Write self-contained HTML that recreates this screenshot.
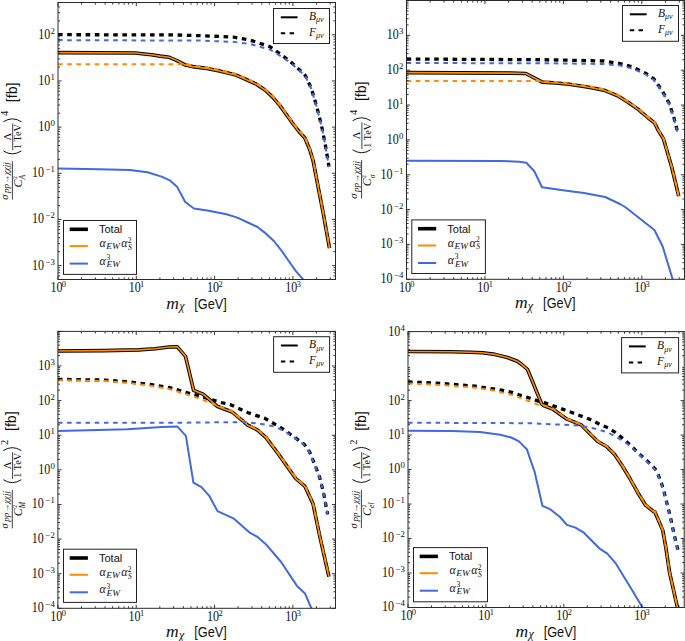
<!DOCTYPE html><html><head><meta charset="utf-8"><style>html,body{margin:0;padding:0;background:#fff;}svg{display:block;}.s{font-family:"Liberation Serif",serif;} .ss{font-family:"Liberation Sans",sans-serif;}</style></head><body>
<svg width="685" height="641" viewBox="0 0 685 641">
<rect width="685" height="641" fill="#fff"/>
<clipPath id="cTL"><rect x="58.0" y="2.5" width="277.5" height="277.0"/></clipPath>
<g clip-path="url(#cTL)" fill="none" stroke-linejoin="round">
<polyline points="58.0,52.6 135.0,53.0 151.5,54.7 160.0,56.1 169.3,57.3 177.5,60.8 185.1,64.9 192.7,66.6 206.7,68.4 218.4,70.7 230.1,73.6 235.0,74.7 245.0,79.0 256.8,84.4 265.0,90.0 272.4,96.8 279.9,105.6 286.2,114.3 292.4,123.0 298.7,131.2 304.9,138.0 309.9,150.0 313.1,160.7 317.5,183.7 323.0,212.0 329.5,248.1" stroke="#000" stroke-width="3.6"/>
<polyline points="58.0,34.7 175.0,34.9 200.0,35.7 232.8,37.0 250.2,40.1 269.9,46.6 283.0,56.0 290.6,61.9 300.0,70.3 305.6,75.9 311.2,88.1 316.8,106.8 321.5,125.5 325.2,144.2 329.0,166.6" stroke="#000" stroke-width="3.3" stroke-dasharray="4.6 4.6"/>
<polyline points="58.0,52.6 135.0,53.0 151.5,54.7 160.0,56.1 169.3,57.3 177.5,60.8 185.1,64.9 192.7,66.6 206.7,68.4 218.4,70.7 230.1,73.6 235.0,74.7 245.0,79.0 256.8,84.4 265.0,90.0 272.4,96.8 279.9,105.6 286.2,114.3 292.4,123.0 298.7,131.2 304.9,138.0 309.9,150.0 313.1,160.7 317.5,183.7 323.0,212.0 329.5,248.1" stroke="#ff8c00" stroke-width="1.65"/>
<polyline points="58.0,64.3 182.2,64.3 185.1,63.9 192.7,65.5 206.7,67.3 218.4,69.6 230.1,72.5 235.0,73.6 245.0,77.9 256.8,83.3 265.0,88.9 272.4,95.7 279.9,104.5 286.2,113.2 292.4,121.9 298.7,130.1 304.9,136.9 309.9,149.0 313.1,159.8 317.5,182.8 323.0,211.1 329.5,247.2" stroke="#ff8c00" stroke-width="2" stroke-dasharray="4.6 4.6"/>
<polyline points="58.0,168.4 98.8,169.3 130.0,170.0 147.5,172.3 161.5,176.6 170.3,180.7 177.3,187.1 185.2,202.0 193.9,208.5 208.8,210.8 226.4,214.3 235.1,216.9 240.0,218.8 250.0,223.5 257.5,227.0 265.7,233.4 273.9,241.0 280.9,249.8 289.1,261.5 296.1,271.4 303.2,279.3 305.0,281.5" stroke="#4169e1" stroke-width="2"/>
<polyline points="58.0,40.1 200.0,40.6 232.8,41.8 250.2,44.0 269.9,49.5 283.0,57.5 290.6,63.0 300.0,71.0 305.6,76.5 311.2,88.6 316.8,107.3 321.5,126.0 325.2,144.7 329.0,167.1" stroke="#4169e1" stroke-width="2" stroke-dasharray="4.6 4.6"/>
</g>
<path d="M58.00,279.5v-3.6 M58.00,2.5v3.6 M81.57,279.5v-2.1 M81.57,2.5v2.1 M95.36,279.5v-2.1 M95.36,2.5v2.1 M105.14,279.5v-2.1 M105.14,2.5v2.1 M112.73,279.5v-2.1 M112.73,2.5v2.1 M118.93,279.5v-2.1 M118.93,2.5v2.1 M124.17,279.5v-2.1 M124.17,2.5v2.1 M128.71,279.5v-2.1 M128.71,2.5v2.1 M132.72,279.5v-2.1 M132.72,2.5v2.1 M136.30,279.5v-3.6 M136.30,2.5v3.6 M159.87,279.5v-2.1 M159.87,2.5v2.1 M173.66,279.5v-2.1 M173.66,2.5v2.1 M183.44,279.5v-2.1 M183.44,2.5v2.1 M191.03,279.5v-2.1 M191.03,2.5v2.1 M197.23,279.5v-2.1 M197.23,2.5v2.1 M202.47,279.5v-2.1 M202.47,2.5v2.1 M207.01,279.5v-2.1 M207.01,2.5v2.1 M211.02,279.5v-2.1 M211.02,2.5v2.1 M214.60,279.5v-3.6 M214.60,2.5v3.6 M238.17,279.5v-2.1 M238.17,2.5v2.1 M251.96,279.5v-2.1 M251.96,2.5v2.1 M261.74,279.5v-2.1 M261.74,2.5v2.1 M269.33,279.5v-2.1 M269.33,2.5v2.1 M275.53,279.5v-2.1 M275.53,2.5v2.1 M280.77,279.5v-2.1 M280.77,2.5v2.1 M285.31,279.5v-2.1 M285.31,2.5v2.1 M289.32,279.5v-2.1 M289.32,2.5v2.1 M292.90,279.5v-3.6 M292.90,2.5v3.6 M316.47,279.5v-2.1 M316.47,2.5v2.1 M330.26,279.5v-2.1 M330.26,2.5v2.1 M58.0,279.50h2.1 M335.5,279.50h-2.1 M58.0,275.84h2.1 M335.5,275.84h-2.1 M58.0,272.75h2.1 M335.5,272.75h-2.1 M58.0,270.08h2.1 M335.5,270.08h-2.1 M58.0,267.71h2.1 M335.5,267.71h-2.1 M58.0,265.60h3.6 M335.5,265.60h-3.6 M58.0,251.70h2.1 M335.5,251.70h-2.1 M58.0,243.58h2.1 M335.5,243.58h-2.1 M58.0,237.81h2.1 M335.5,237.81h-2.1 M58.0,233.33h2.1 M335.5,233.33h-2.1 M58.0,229.68h2.1 M335.5,229.68h-2.1 M58.0,226.59h2.1 M335.5,226.59h-2.1 M58.0,223.91h2.1 M335.5,223.91h-2.1 M58.0,221.55h2.1 M335.5,221.55h-2.1 M58.0,219.44h3.6 M335.5,219.44h-3.6 M58.0,205.54h2.1 M335.5,205.54h-2.1 M58.0,197.41h2.1 M335.5,197.41h-2.1 M58.0,191.64h2.1 M335.5,191.64h-2.1 M58.0,187.17h2.1 M335.5,187.17h-2.1 M58.0,183.51h2.1 M335.5,183.51h-2.1 M58.0,180.42h2.1 M335.5,180.42h-2.1 M58.0,177.74h2.1 M335.5,177.74h-2.1 M58.0,175.38h2.1 M335.5,175.38h-2.1 M58.0,173.27h3.6 M335.5,173.27h-3.6 M58.0,159.37h2.1 M335.5,159.37h-2.1 M58.0,151.24h2.1 M335.5,151.24h-2.1 M58.0,145.47h2.1 M335.5,145.47h-2.1 M58.0,141.00h2.1 M335.5,141.00h-2.1 M58.0,137.34h2.1 M335.5,137.34h-2.1 M58.0,134.25h2.1 M335.5,134.25h-2.1 M58.0,131.58h2.1 M335.5,131.58h-2.1 M58.0,129.21h2.1 M335.5,129.21h-2.1 M58.0,127.10h3.6 M335.5,127.10h-3.6 M58.0,113.20h2.1 M335.5,113.20h-2.1 M58.0,105.08h2.1 M335.5,105.08h-2.1 M58.0,99.31h2.1 M335.5,99.31h-2.1 M58.0,94.83h2.1 M335.5,94.83h-2.1 M58.0,91.18h2.1 M335.5,91.18h-2.1 M58.0,88.09h2.1 M335.5,88.09h-2.1 M58.0,85.41h2.1 M335.5,85.41h-2.1 M58.0,83.05h2.1 M335.5,83.05h-2.1 M58.0,80.94h3.6 M335.5,80.94h-3.6 M58.0,67.04h2.1 M335.5,67.04h-2.1 M58.0,58.91h2.1 M335.5,58.91h-2.1 M58.0,53.14h2.1 M335.5,53.14h-2.1 M58.0,48.67h2.1 M335.5,48.67h-2.1 M58.0,45.01h2.1 M335.5,45.01h-2.1 M58.0,41.92h2.1 M335.5,41.92h-2.1 M58.0,39.24h2.1 M335.5,39.24h-2.1 M58.0,36.88h2.1 M335.5,36.88h-2.1 M58.0,34.77h3.6 M335.5,34.77h-3.6 M58.0,20.87h2.1 M335.5,20.87h-2.1 M58.0,12.74h2.1 M335.5,12.74h-2.1 M58.0,6.97h2.1 M335.5,6.97h-2.1 M58.0,2.50h2.1 M335.5,2.50h-2.1" stroke="#222" stroke-width="0.9" fill="none"/>
<rect x="58.0" y="2.5" width="277.5" height="277.0" fill="none" stroke="#2a2a2a" stroke-width="1"/>
<text class="s" x="55.0" y="33.7" font-size="8.8" text-anchor="end" fill="#111">2</text>
<text class="s" transform="translate(50.3,38.7) scale(1,1.13)" font-size="12" text-anchor="end" fill="#111">10</text>
<text class="s" x="55.0" y="79.8" font-size="8.8" text-anchor="end" fill="#111">1</text>
<text class="s" transform="translate(50.3,84.8) scale(1,1.13)" font-size="12" text-anchor="end" fill="#111">10</text>
<text class="s" x="55.0" y="126.0" font-size="8.8" text-anchor="end" fill="#111">0</text>
<text class="s" transform="translate(50.3,131.0) scale(1,1.13)" font-size="12" text-anchor="end" fill="#111">10</text>
<text class="s" x="55.0" y="172.2" font-size="8.8" text-anchor="end" fill="#111">−1</text>
<text class="s" transform="translate(43.9,177.2) scale(1,1.13)" font-size="12" text-anchor="end" fill="#111">10</text>
<text class="s" x="55.0" y="218.3" font-size="8.8" text-anchor="end" fill="#111">−2</text>
<text class="s" transform="translate(43.9,223.3) scale(1,1.13)" font-size="12" text-anchor="end" fill="#111">10</text>
<text class="s" x="55.0" y="264.5" font-size="8.8" text-anchor="end" fill="#111">−3</text>
<text class="s" transform="translate(43.9,269.5) scale(1,1.13)" font-size="12" text-anchor="end" fill="#111">10</text>
<text class="s" transform="translate(50.4,292.0) scale(1,1.13)" font-size="12" fill="#111">10</text>
<text class="s" x="61.8" y="287.0" font-size="8.4" fill="#111">0</text>
<text class="s" transform="translate(128.7,292.0) scale(1,1.13)" font-size="12" fill="#111">10</text>
<text class="s" x="140.1" y="287.0" font-size="8.4" fill="#111">1</text>
<text class="s" transform="translate(207.0,292.0) scale(1,1.13)" font-size="12" fill="#111">10</text>
<text class="s" x="218.4" y="287.0" font-size="8.4" fill="#111">2</text>
<text class="s" transform="translate(285.3,292.0) scale(1,1.13)" font-size="12" fill="#111">10</text>
<text class="s" x="296.7" y="287.0" font-size="8.4" fill="#111">3</text>
<text class="s" x="166.2" y="308.5" font-size="17.5" font-style="italic" fill="#111">m<tspan font-size="12" dy="1.8" dx="0.3">χ</tspan></text>
<text class="ss" x="194.3" y="308.5" font-size="15.5" fill="#111" textLength="32.5" lengthAdjust="spacingAndGlyphs">[GeV]</text>
<rect x="273.5" y="8.5" width="56.0" height="35.0" fill="#fff" stroke="#222" stroke-width="1"/>
<line x1="280.8" x2="297.6" y1="17.3" y2="17.3" stroke="#000" stroke-width="2"/>
<line x1="280.8" x2="297.6" y1="33.3" y2="33.3" stroke="#000" stroke-width="2" stroke-dasharray="4.4 4.4"/>
<text class="s" x="309.0" y="19.9" font-size="11.5" font-style="italic" fill="#111">B<tspan font-size="8" dy="2.5">μν</tspan></text>
<text class="s" x="309.0" y="35.6" font-size="11.5" font-style="italic" fill="#111">F<tspan font-size="8" dy="2.5">μν</tspan></text>
<rect x="63.5" y="220.5" width="73.0" height="53.9" fill="#fff" stroke="#222" stroke-width="1"/>
<line x1="69.7" x2="87.9" y1="229.3" y2="229.3" stroke="#000" stroke-width="3.6"/>
<line x1="69.7" x2="87.9" y1="246.1" y2="246.1" stroke="#ff8c00" stroke-width="2"/>
<line x1="69.7" x2="87.9" y1="263.6" y2="263.6" stroke="#4169e1" stroke-width="2"/>
<text class="ss" x="99.0" y="233.1" font-size="11" fill="#111">Total</text>
<text class="s" x="99.5" y="247.1" font-size="11.5" font-style="italic" fill="#111" textLength="6.2" lengthAdjust="spacingAndGlyphs">α</text>
<text class="s" x="106.3" y="249.1" font-size="7.6" font-style="italic" fill="#111" textLength="13.6" lengthAdjust="spacingAndGlyphs">EW</text>
<text class="s" x="121.2" y="247.1" font-size="11.5" font-style="italic" fill="#111" textLength="6.2" lengthAdjust="spacingAndGlyphs">α</text>
<text class="s" x="127.8" y="243.0" font-size="7.6" fill="#111">2</text>
<text class="s" x="127.9" y="250.0" font-size="7.6" font-style="italic" fill="#111">S</text>
<text class="s" x="99.5" y="264.6" font-size="11.5" font-style="italic" fill="#111" textLength="6.2" lengthAdjust="spacingAndGlyphs">α</text>
<text class="s" x="106.4" y="260.0" font-size="7.6" fill="#111">3</text>
<text class="s" x="106.6" y="267.3" font-size="7.6" font-style="italic" fill="#111" textLength="13.4" lengthAdjust="spacingAndGlyphs">EW</text>
<g transform="translate(0.0,141.0) rotate(-90)" fill="#111">
<line x1="-58.6" x2="-20.2" y1="12.4" y2="12.4" stroke="#111" stroke-width="0.8"/>
<text class="s" x="-58.8" y="7.7" font-size="10.5" font-style="italic">σ</text>
<text class="s" x="-52" y="9.4" font-size="8" font-style="italic" textLength="30.8" lengthAdjust="spacingAndGlyphs">pp→χχjj</text>
<text class="s" x="-46.4" y="22" font-size="12" font-style="italic">C</text>
<text class="s" x="-38" y="17.2" font-size="5.8">2</text>
<text class="s" x="-38.4" y="25.4" font-size="7.6" font-style="italic">A</text>
<path d="M-9.9,3.4 Q-15.8,12.4 -9.9,21.4" fill="none" stroke="#111" stroke-width="1"/>
<path d="M19.2,3.4 Q25.1,12.4 19.2,21.4" fill="none" stroke="#111" stroke-width="1"/>
<text class="s" x="0.6" y="10.7" font-size="10.5">Λ</text>
<line x1="-9.1" x2="17.5" y1="12.7" y2="12.7" stroke="#111" stroke-width="0.8"/>
<text class="s" x="-7.9" y="21.4" font-size="10.5" textLength="24.8" lengthAdjust="spacingAndGlyphs">1 TeV</text>
<text class="s" x="24.9" y="7.7" font-size="10.5">4</text>
<text class="ss" x="38.8" y="16.6" font-size="15.5" textLength="19.6" lengthAdjust="spacingAndGlyphs">[fb]</text>
</g>
<clipPath id="cTR"><rect x="406.5" y="0.5" width="278.0" height="278.8"/></clipPath>
<g clip-path="url(#cTR)" fill="none" stroke-linejoin="round">
<polyline points="406.5,72.6 510.0,73.1 525.8,73.5 533.7,77.7 542.2,82.1 556.0,83.0 569.1,84.3 582.3,86.3 590.0,87.5 603.9,90.2 617.7,95.8 628.8,102.7 638.5,109.6 648.3,118.0 654.5,122.8 658.0,130.0 663.5,138.9 671.7,167.0 678.7,196.2" stroke="#000" stroke-width="3.6"/>
<polyline points="406.6,59.0 550.0,59.8 603.8,61.0 620.2,63.6 631.9,66.8 645.9,73.4 654.1,79.2 662.3,91.0 669.3,103.8 674.0,117.9 677.5,131.9" stroke="#000" stroke-width="3.3" stroke-dasharray="4.6 4.6"/>
<polyline points="406.5,72.6 510.0,73.1 525.8,73.5 533.7,77.7 542.2,82.1 556.0,83.0 569.1,84.3 582.3,86.3 590.0,87.5 603.9,90.2 617.7,95.8 628.8,102.7 638.5,109.6 648.3,118.0 654.5,122.8 658.0,130.0 663.5,138.9 671.7,167.0 678.7,196.2" stroke="#ff8c00" stroke-width="1.65"/>
<polyline points="406.5,81.0 537.0,81.0 542.2,81.1 556.0,82.0 569.1,83.3 582.3,85.3 590.0,86.5 603.9,89.2 617.7,94.8 628.8,101.7 638.5,108.6 648.3,117.0 654.5,121.8 658.0,129.2 663.5,138.3 671.7,166.6 678.7,195.8" stroke="#ff8c00" stroke-width="2" stroke-dasharray="4.6 4.6"/>
<polyline points="406.6,160.8 500.0,161.0 519.3,161.7 526.3,162.8 534.2,171.0 542.0,187.3 566.6,190.8 584.1,192.9 605.1,197.0 620.0,204.0 625.8,207.5 654.4,230.0 662.6,246.3 673.5,282.0" stroke="#4169e1" stroke-width="2"/>
<polyline points="406.6,63.0 550.0,63.3 603.8,64.0 620.2,65.5 631.9,68.3 645.9,74.6 654.1,80.2 662.3,91.8 669.3,104.5 674.0,118.5 677.5,132.5" stroke="#4169e1" stroke-width="2" stroke-dasharray="4.6 4.6"/>
</g>
<path d="M406.50,279.3v-3.6 M406.50,0.5v3.6 M430.11,279.3v-2.1 M430.11,0.5v2.1 M443.93,279.3v-2.1 M443.93,0.5v2.1 M453.73,279.3v-2.1 M453.73,0.5v2.1 M461.33,279.3v-2.1 M461.33,0.5v2.1 M467.54,279.3v-2.1 M467.54,0.5v2.1 M472.79,279.3v-2.1 M472.79,0.5v2.1 M477.34,279.3v-2.1 M477.34,0.5v2.1 M481.35,279.3v-2.1 M481.35,0.5v2.1 M484.94,279.3v-3.6 M484.94,0.5v3.6 M508.55,279.3v-2.1 M508.55,0.5v2.1 M522.37,279.3v-2.1 M522.37,0.5v2.1 M532.17,279.3v-2.1 M532.17,0.5v2.1 M539.77,279.3v-2.1 M539.77,0.5v2.1 M545.98,279.3v-2.1 M545.98,0.5v2.1 M551.23,279.3v-2.1 M551.23,0.5v2.1 M555.78,279.3v-2.1 M555.78,0.5v2.1 M559.79,279.3v-2.1 M559.79,0.5v2.1 M563.38,279.3v-3.6 M563.38,0.5v3.6 M586.99,279.3v-2.1 M586.99,0.5v2.1 M600.81,279.3v-2.1 M600.81,0.5v2.1 M610.61,279.3v-2.1 M610.61,0.5v2.1 M618.21,279.3v-2.1 M618.21,0.5v2.1 M624.42,279.3v-2.1 M624.42,0.5v2.1 M629.67,279.3v-2.1 M629.67,0.5v2.1 M634.22,279.3v-2.1 M634.22,0.5v2.1 M638.23,279.3v-2.1 M638.23,0.5v2.1 M641.82,279.3v-3.6 M641.82,0.5v3.6 M665.44,279.3v-2.1 M665.44,0.5v2.1 M679.25,279.3v-2.1 M679.25,0.5v2.1 M406.5,279.30h3.6 M684.5,279.30h-3.6 M406.5,268.81h2.1 M684.5,268.81h-2.1 M406.5,262.67h2.1 M684.5,262.67h-2.1 M406.5,258.32h2.1 M684.5,258.32h-2.1 M406.5,254.94h2.1 M684.5,254.94h-2.1 M406.5,252.18h2.1 M684.5,252.18h-2.1 M406.5,249.85h2.1 M684.5,249.85h-2.1 M406.5,247.83h2.1 M684.5,247.83h-2.1 M406.5,246.04h2.1 M684.5,246.04h-2.1 M406.5,244.45h3.6 M684.5,244.45h-3.6 M406.5,233.96h2.1 M684.5,233.96h-2.1 M406.5,227.82h2.1 M684.5,227.82h-2.1 M406.5,223.47h2.1 M684.5,223.47h-2.1 M406.5,220.09h2.1 M684.5,220.09h-2.1 M406.5,217.33h2.1 M684.5,217.33h-2.1 M406.5,215.00h2.1 M684.5,215.00h-2.1 M406.5,212.98h2.1 M684.5,212.98h-2.1 M406.5,211.19h2.1 M684.5,211.19h-2.1 M406.5,209.60h3.6 M684.5,209.60h-3.6 M406.5,199.11h2.1 M684.5,199.11h-2.1 M406.5,192.97h2.1 M684.5,192.97h-2.1 M406.5,188.62h2.1 M684.5,188.62h-2.1 M406.5,185.24h2.1 M684.5,185.24h-2.1 M406.5,182.48h2.1 M684.5,182.48h-2.1 M406.5,180.15h2.1 M684.5,180.15h-2.1 M406.5,178.13h2.1 M684.5,178.13h-2.1 M406.5,176.34h2.1 M684.5,176.34h-2.1 M406.5,174.75h3.6 M684.5,174.75h-3.6 M406.5,164.26h2.1 M684.5,164.26h-2.1 M406.5,158.12h2.1 M684.5,158.12h-2.1 M406.5,153.77h2.1 M684.5,153.77h-2.1 M406.5,150.39h2.1 M684.5,150.39h-2.1 M406.5,147.63h2.1 M684.5,147.63h-2.1 M406.5,145.30h2.1 M684.5,145.30h-2.1 M406.5,143.28h2.1 M684.5,143.28h-2.1 M406.5,141.49h2.1 M684.5,141.49h-2.1 M406.5,139.90h3.6 M684.5,139.90h-3.6 M406.5,129.41h2.1 M684.5,129.41h-2.1 M406.5,123.27h2.1 M684.5,123.27h-2.1 M406.5,118.92h2.1 M684.5,118.92h-2.1 M406.5,115.54h2.1 M684.5,115.54h-2.1 M406.5,112.78h2.1 M684.5,112.78h-2.1 M406.5,110.45h2.1 M684.5,110.45h-2.1 M406.5,108.43h2.1 M684.5,108.43h-2.1 M406.5,106.64h2.1 M684.5,106.64h-2.1 M406.5,105.05h3.6 M684.5,105.05h-3.6 M406.5,94.56h2.1 M684.5,94.56h-2.1 M406.5,88.42h2.1 M684.5,88.42h-2.1 M406.5,84.07h2.1 M684.5,84.07h-2.1 M406.5,80.69h2.1 M684.5,80.69h-2.1 M406.5,77.93h2.1 M684.5,77.93h-2.1 M406.5,75.60h2.1 M684.5,75.60h-2.1 M406.5,73.58h2.1 M684.5,73.58h-2.1 M406.5,71.79h2.1 M684.5,71.79h-2.1 M406.5,70.20h3.6 M684.5,70.20h-3.6 M406.5,59.71h2.1 M684.5,59.71h-2.1 M406.5,53.57h2.1 M684.5,53.57h-2.1 M406.5,49.22h2.1 M684.5,49.22h-2.1 M406.5,45.84h2.1 M684.5,45.84h-2.1 M406.5,43.08h2.1 M684.5,43.08h-2.1 M406.5,40.75h2.1 M684.5,40.75h-2.1 M406.5,38.73h2.1 M684.5,38.73h-2.1 M406.5,36.94h2.1 M684.5,36.94h-2.1 M406.5,35.35h3.6 M684.5,35.35h-3.6 M406.5,24.86h2.1 M684.5,24.86h-2.1 M406.5,18.72h2.1 M684.5,18.72h-2.1 M406.5,14.37h2.1 M684.5,14.37h-2.1 M406.5,10.99h2.1 M684.5,10.99h-2.1 M406.5,8.23h2.1 M684.5,8.23h-2.1 M406.5,5.90h2.1 M684.5,5.90h-2.1 M406.5,3.88h2.1 M684.5,3.88h-2.1 M406.5,2.09h2.1 M684.5,2.09h-2.1 M406.5,0.50h3.6 M684.5,0.50h-3.6" stroke="#222" stroke-width="0.9" fill="none"/>
<rect x="406.5" y="0.5" width="278.0" height="278.8" fill="none" stroke="#2a2a2a" stroke-width="1"/>
<text class="s" x="403.5" y="34.2" font-size="8.8" text-anchor="end" fill="#111">3</text>
<text class="s" transform="translate(398.8,39.2) scale(1,1.13)" font-size="12" text-anchor="end" fill="#111">10</text>
<text class="s" x="403.5" y="69.1" font-size="8.8" text-anchor="end" fill="#111">2</text>
<text class="s" transform="translate(398.8,74.1) scale(1,1.13)" font-size="12" text-anchor="end" fill="#111">10</text>
<text class="s" x="403.5" y="104.0" font-size="8.8" text-anchor="end" fill="#111">1</text>
<text class="s" transform="translate(398.8,109.0) scale(1,1.13)" font-size="12" text-anchor="end" fill="#111">10</text>
<text class="s" x="403.5" y="138.8" font-size="8.8" text-anchor="end" fill="#111">0</text>
<text class="s" transform="translate(398.8,143.8) scale(1,1.13)" font-size="12" text-anchor="end" fill="#111">10</text>
<text class="s" x="403.5" y="173.7" font-size="8.8" text-anchor="end" fill="#111">−1</text>
<text class="s" transform="translate(392.4,178.7) scale(1,1.13)" font-size="12" text-anchor="end" fill="#111">10</text>
<text class="s" x="403.5" y="208.5" font-size="8.8" text-anchor="end" fill="#111">−2</text>
<text class="s" transform="translate(392.4,213.5) scale(1,1.13)" font-size="12" text-anchor="end" fill="#111">10</text>
<text class="s" x="403.5" y="243.4" font-size="8.8" text-anchor="end" fill="#111">−3</text>
<text class="s" transform="translate(392.4,248.4) scale(1,1.13)" font-size="12" text-anchor="end" fill="#111">10</text>
<text class="s" x="403.5" y="278.2" font-size="8.8" text-anchor="end" fill="#111">−4</text>
<text class="s" transform="translate(392.4,283.2) scale(1,1.13)" font-size="12" text-anchor="end" fill="#111">10</text>
<text class="s" transform="translate(398.9,291.8) scale(1,1.13)" font-size="12" fill="#111">10</text>
<text class="s" x="410.3" y="286.8" font-size="8.4" fill="#111">0</text>
<text class="s" transform="translate(477.3,291.8) scale(1,1.13)" font-size="12" fill="#111">10</text>
<text class="s" x="488.7" y="286.8" font-size="8.4" fill="#111">1</text>
<text class="s" transform="translate(555.8,291.8) scale(1,1.13)" font-size="12" fill="#111">10</text>
<text class="s" x="567.2" y="286.8" font-size="8.4" fill="#111">2</text>
<text class="s" transform="translate(634.2,291.8) scale(1,1.13)" font-size="12" fill="#111">10</text>
<text class="s" x="645.6" y="286.8" font-size="8.4" fill="#111">3</text>
<text class="s" x="514.9" y="308.3" font-size="17.5" font-style="italic" fill="#111">m<tspan font-size="12" dy="1.8" dx="0.3">χ</tspan></text>
<text class="ss" x="543.1" y="308.3" font-size="15.5" fill="#111" textLength="32.5" lengthAdjust="spacingAndGlyphs">[GeV]</text>
<rect x="622.5" y="5.5" width="56.0" height="35.8" fill="#fff" stroke="#222" stroke-width="1"/>
<line x1="629.8" x2="646.6" y1="14.3" y2="14.3" stroke="#000" stroke-width="2"/>
<line x1="629.8" x2="646.6" y1="30.3" y2="30.3" stroke="#000" stroke-width="2" stroke-dasharray="4.4 4.4"/>
<text class="s" x="658.0" y="16.9" font-size="11.5" font-style="italic" fill="#111">B<tspan font-size="8" dy="2.5">μν</tspan></text>
<text class="s" x="658.0" y="32.6" font-size="11.5" font-style="italic" fill="#111">F<tspan font-size="8" dy="2.5">μν</tspan></text>
<rect x="411.8" y="219.9" width="73.6" height="53.6" fill="#fff" stroke="#222" stroke-width="1"/>
<line x1="418.0" x2="436.2" y1="228.7" y2="228.7" stroke="#000" stroke-width="3.6"/>
<line x1="418.0" x2="436.2" y1="245.5" y2="245.5" stroke="#ff8c00" stroke-width="2"/>
<line x1="418.0" x2="436.2" y1="263.0" y2="263.0" stroke="#4169e1" stroke-width="2"/>
<text class="ss" x="447.3" y="232.5" font-size="11" fill="#111">Total</text>
<text class="s" x="447.8" y="246.5" font-size="11.5" font-style="italic" fill="#111" textLength="6.2" lengthAdjust="spacingAndGlyphs">α</text>
<text class="s" x="454.6" y="248.5" font-size="7.6" font-style="italic" fill="#111" textLength="13.6" lengthAdjust="spacingAndGlyphs">EW</text>
<text class="s" x="469.5" y="246.5" font-size="11.5" font-style="italic" fill="#111" textLength="6.2" lengthAdjust="spacingAndGlyphs">α</text>
<text class="s" x="476.1" y="242.4" font-size="7.6" fill="#111">2</text>
<text class="s" x="476.2" y="249.4" font-size="7.6" font-style="italic" fill="#111">S</text>
<text class="s" x="447.8" y="264.0" font-size="11.5" font-style="italic" fill="#111" textLength="6.2" lengthAdjust="spacingAndGlyphs">α</text>
<text class="s" x="454.7" y="259.4" font-size="7.6" fill="#111">3</text>
<text class="s" x="454.9" y="266.7" font-size="7.6" font-style="italic" fill="#111" textLength="13.4" lengthAdjust="spacingAndGlyphs">EW</text>
<g transform="translate(349.2,139.9) rotate(-90)" fill="#111">
<line x1="-58.6" x2="-20.2" y1="12.4" y2="12.4" stroke="#111" stroke-width="0.8"/>
<text class="s" x="-58.8" y="7.7" font-size="10.5" font-style="italic">σ</text>
<text class="s" x="-52" y="9.4" font-size="8" font-style="italic" textLength="30.8" lengthAdjust="spacingAndGlyphs">pp→χχjj</text>
<text class="s" x="-46.4" y="22" font-size="12" font-style="italic">C</text>
<text class="s" x="-38" y="17.2" font-size="5.8">2</text>
<text class="s" x="-38.4" y="25.4" font-size="7.6" font-style="italic">σ</text>
<path d="M-9.9,3.4 Q-15.8,12.4 -9.9,21.4" fill="none" stroke="#111" stroke-width="1"/>
<path d="M19.2,3.4 Q25.1,12.4 19.2,21.4" fill="none" stroke="#111" stroke-width="1"/>
<text class="s" x="0.6" y="10.7" font-size="10.5">Λ</text>
<line x1="-9.1" x2="17.5" y1="12.7" y2="12.7" stroke="#111" stroke-width="0.8"/>
<text class="s" x="-7.9" y="21.4" font-size="10.5" textLength="24.8" lengthAdjust="spacingAndGlyphs">1 TeV</text>
<text class="s" x="24.9" y="7.7" font-size="10.5">4</text>
<text class="ss" x="38.8" y="16.6" font-size="15.5" textLength="19.6" lengthAdjust="spacingAndGlyphs">[fb]</text>
</g>
<clipPath id="cBL"><rect x="57.9" y="331.4" width="277.6" height="276.9"/></clipPath>
<g clip-path="url(#cBL)" fill="none" stroke-linejoin="round">
<polyline points="57.9,351.0 103.7,350.6 138.8,349.9 155.1,348.7 169.1,347.0 177.3,346.8 185.5,356.4 193.6,390.3 203.0,394.2 217.0,406.2 232.2,412.0 247.4,424.9 257.9,430.3 266.1,437.7 280.1,456.4 295.7,478.5 305.0,486.4 313.0,503.7 319.6,535.5 328.9,576.6" stroke="#000" stroke-width="3.6"/>
<polyline points="57.9,379.3 103.7,380.1 127.1,381.7 150.4,384.5 169.1,387.5 187.8,392.9 198.4,395.7 221.7,402.7 230.0,404.5 247.5,412.5 265.0,418.4 281.1,427.8 295.7,438.1 304.5,444.6 309.6,451.9 316.1,468.0 319.6,477.1 323.6,493.1 327.6,514.3" stroke="#000" stroke-width="3.3" stroke-dasharray="4.6 4.6"/>
<polyline points="57.9,351.0 103.7,350.6 138.8,349.9 155.1,348.7 169.1,347.0 177.3,346.8 185.5,356.4 193.6,390.3 203.0,394.2 217.0,406.2 232.2,412.0 247.4,424.9 257.9,430.3 266.1,437.7 280.1,456.4 295.7,478.5 305.0,486.4 313.0,503.7 319.6,535.5 328.9,576.6" stroke="#ff8c00" stroke-width="1.65"/>
<polyline points="57.9,380.2 103.7,381.0 127.1,382.8 150.4,385.8 169.1,389.0 187.8,394.8 198.4,398.3 217.0,405.4 232.2,411.2 247.4,424.1 257.9,429.5 266.1,436.9 280.1,455.6 297.6,479.2 305.0,485.6 313.0,502.9 319.6,534.7 328.9,575.8" stroke="#ff8c00" stroke-width="2" stroke-dasharray="4.6 4.6"/>
<polyline points="57.9,430.9 127.1,429.3 162.1,426.9 177.5,426.6 185.9,435.9 193.4,482.7 201.5,487.2 209.5,496.2 217.5,511.1 233.4,518.3 249.3,532.3 257.3,536.8 266.5,544.8 281.1,562.0 297.0,585.9 305.0,593.4 312.5,611.0" stroke="#4169e1" stroke-width="2"/>
<polyline points="57.9,422.7 175.0,422.8 230.0,422.2 244.6,422.1 259.2,423.5 273.8,426.4 284.0,430.8 292.8,436.6 303.0,443.9 309.6,452.4 316.1,468.5 319.6,477.6 323.6,493.6 327.6,514.8" stroke="#4169e1" stroke-width="2" stroke-dasharray="4.6 4.6"/>
</g>
<path d="M57.90,608.3v-3.6 M57.90,331.4v3.6 M81.48,608.3v-2.1 M81.48,331.4v2.1 M95.27,608.3v-2.1 M95.27,331.4v2.1 M105.06,608.3v-2.1 M105.06,331.4v2.1 M112.65,608.3v-2.1 M112.65,331.4v2.1 M118.85,608.3v-2.1 M118.85,331.4v2.1 M124.09,608.3v-2.1 M124.09,331.4v2.1 M128.64,608.3v-2.1 M128.64,331.4v2.1 M132.64,608.3v-2.1 M132.64,331.4v2.1 M136.23,608.3v-3.6 M136.23,331.4v3.6 M159.81,608.3v-2.1 M159.81,331.4v2.1 M173.60,608.3v-2.1 M173.60,331.4v2.1 M183.39,608.3v-2.1 M183.39,331.4v2.1 M190.98,608.3v-2.1 M190.98,331.4v2.1 M197.18,608.3v-2.1 M197.18,331.4v2.1 M202.42,608.3v-2.1 M202.42,331.4v2.1 M206.97,608.3v-2.1 M206.97,331.4v2.1 M210.97,608.3v-2.1 M210.97,331.4v2.1 M214.56,608.3v-3.6 M214.56,331.4v3.6 M238.14,608.3v-2.1 M238.14,331.4v2.1 M251.93,608.3v-2.1 M251.93,331.4v2.1 M261.71,608.3v-2.1 M261.71,331.4v2.1 M269.31,608.3v-2.1 M269.31,331.4v2.1 M275.51,608.3v-2.1 M275.51,331.4v2.1 M280.75,608.3v-2.1 M280.75,331.4v2.1 M285.29,608.3v-2.1 M285.29,331.4v2.1 M289.30,608.3v-2.1 M289.30,331.4v2.1 M292.88,608.3v-3.6 M292.88,331.4v3.6 M316.46,608.3v-2.1 M316.46,331.4v2.1 M330.26,608.3v-2.1 M330.26,331.4v2.1 M57.9,608.30h3.6 M335.5,608.30h-3.6 M57.9,597.88h2.1 M335.5,597.88h-2.1 M57.9,591.79h2.1 M335.5,591.79h-2.1 M57.9,587.46h2.1 M335.5,587.46h-2.1 M57.9,584.11h2.1 M335.5,584.11h-2.1 M57.9,581.37h2.1 M335.5,581.37h-2.1 M57.9,579.05h2.1 M335.5,579.05h-2.1 M57.9,577.04h2.1 M335.5,577.04h-2.1 M57.9,575.27h2.1 M335.5,575.27h-2.1 M57.9,573.69h3.6 M335.5,573.69h-3.6 M57.9,563.27h2.1 M335.5,563.27h-2.1 M57.9,557.17h2.1 M335.5,557.17h-2.1 M57.9,552.85h2.1 M335.5,552.85h-2.1 M57.9,549.49h2.1 M335.5,549.49h-2.1 M57.9,546.75h2.1 M335.5,546.75h-2.1 M57.9,544.44h2.1 M335.5,544.44h-2.1 M57.9,542.43h2.1 M335.5,542.43h-2.1 M57.9,540.66h2.1 M335.5,540.66h-2.1 M57.9,539.07h3.6 M335.5,539.07h-3.6 M57.9,528.66h2.1 M335.5,528.66h-2.1 M57.9,522.56h2.1 M335.5,522.56h-2.1 M57.9,518.24h2.1 M335.5,518.24h-2.1 M57.9,514.88h2.1 M335.5,514.88h-2.1 M57.9,512.14h2.1 M335.5,512.14h-2.1 M57.9,509.82h2.1 M335.5,509.82h-2.1 M57.9,507.82h2.1 M335.5,507.82h-2.1 M57.9,506.05h2.1 M335.5,506.05h-2.1 M57.9,504.46h3.6 M335.5,504.46h-3.6 M57.9,494.04h2.1 M335.5,494.04h-2.1 M57.9,487.95h2.1 M335.5,487.95h-2.1 M57.9,483.62h2.1 M335.5,483.62h-2.1 M57.9,480.27h2.1 M335.5,480.27h-2.1 M57.9,477.53h2.1 M335.5,477.53h-2.1 M57.9,475.21h2.1 M335.5,475.21h-2.1 M57.9,473.20h2.1 M335.5,473.20h-2.1 M57.9,471.43h2.1 M335.5,471.43h-2.1 M57.9,469.85h3.6 M335.5,469.85h-3.6 M57.9,459.43h2.1 M335.5,459.43h-2.1 M57.9,453.34h2.1 M335.5,453.34h-2.1 M57.9,449.01h2.1 M335.5,449.01h-2.1 M57.9,445.66h2.1 M335.5,445.66h-2.1 M57.9,442.92h2.1 M335.5,442.92h-2.1 M57.9,440.60h2.1 M335.5,440.60h-2.1 M57.9,438.59h2.1 M335.5,438.59h-2.1 M57.9,436.82h2.1 M335.5,436.82h-2.1 M57.9,435.24h3.6 M335.5,435.24h-3.6 M57.9,424.82h2.1 M335.5,424.82h-2.1 M57.9,418.72h2.1 M335.5,418.72h-2.1 M57.9,414.40h2.1 M335.5,414.40h-2.1 M57.9,411.04h2.1 M335.5,411.04h-2.1 M57.9,408.30h2.1 M335.5,408.30h-2.1 M57.9,405.99h2.1 M335.5,405.99h-2.1 M57.9,403.98h2.1 M335.5,403.98h-2.1 M57.9,402.21h2.1 M335.5,402.21h-2.1 M57.9,400.62h3.6 M335.5,400.62h-3.6 M57.9,390.21h2.1 M335.5,390.21h-2.1 M57.9,384.11h2.1 M335.5,384.11h-2.1 M57.9,379.79h2.1 M335.5,379.79h-2.1 M57.9,376.43h2.1 M335.5,376.43h-2.1 M57.9,373.69h2.1 M335.5,373.69h-2.1 M57.9,371.37h2.1 M335.5,371.37h-2.1 M57.9,369.37h2.1 M335.5,369.37h-2.1 M57.9,367.60h2.1 M335.5,367.60h-2.1 M57.9,366.01h3.6 M335.5,366.01h-3.6 M57.9,355.59h2.1 M335.5,355.59h-2.1 M57.9,349.50h2.1 M335.5,349.50h-2.1 M57.9,345.17h2.1 M335.5,345.17h-2.1 M57.9,341.82h2.1 M335.5,341.82h-2.1 M57.9,339.08h2.1 M335.5,339.08h-2.1 M57.9,336.76h2.1 M335.5,336.76h-2.1 M57.9,334.75h2.1 M335.5,334.75h-2.1 M57.9,332.98h2.1 M335.5,332.98h-2.1 M57.9,331.40h3.6 M335.5,331.40h-3.6" stroke="#222" stroke-width="0.9" fill="none"/>
<rect x="57.9" y="331.4" width="277.6" height="276.9" fill="none" stroke="#2a2a2a" stroke-width="1"/>
<text class="s" x="54.9" y="364.9" font-size="8.8" text-anchor="end" fill="#111">3</text>
<text class="s" transform="translate(50.2,369.9) scale(1,1.13)" font-size="12" text-anchor="end" fill="#111">10</text>
<text class="s" x="54.9" y="399.5" font-size="8.8" text-anchor="end" fill="#111">2</text>
<text class="s" transform="translate(50.2,404.5) scale(1,1.13)" font-size="12" text-anchor="end" fill="#111">10</text>
<text class="s" x="54.9" y="434.1" font-size="8.8" text-anchor="end" fill="#111">1</text>
<text class="s" transform="translate(50.2,439.1) scale(1,1.13)" font-size="12" text-anchor="end" fill="#111">10</text>
<text class="s" x="54.9" y="468.7" font-size="8.8" text-anchor="end" fill="#111">0</text>
<text class="s" transform="translate(50.2,473.7) scale(1,1.13)" font-size="12" text-anchor="end" fill="#111">10</text>
<text class="s" x="54.9" y="503.4" font-size="8.8" text-anchor="end" fill="#111">−1</text>
<text class="s" transform="translate(43.8,508.4) scale(1,1.13)" font-size="12" text-anchor="end" fill="#111">10</text>
<text class="s" x="54.9" y="538.0" font-size="8.8" text-anchor="end" fill="#111">−2</text>
<text class="s" transform="translate(43.8,543.0) scale(1,1.13)" font-size="12" text-anchor="end" fill="#111">10</text>
<text class="s" x="54.9" y="572.6" font-size="8.8" text-anchor="end" fill="#111">−3</text>
<text class="s" transform="translate(43.8,577.6) scale(1,1.13)" font-size="12" text-anchor="end" fill="#111">10</text>
<text class="s" x="54.9" y="607.2" font-size="8.8" text-anchor="end" fill="#111">−4</text>
<text class="s" transform="translate(43.8,612.2) scale(1,1.13)" font-size="12" text-anchor="end" fill="#111">10</text>
<text class="s" transform="translate(50.3,620.8) scale(1,1.13)" font-size="12" fill="#111">10</text>
<text class="s" x="61.7" y="615.8" font-size="8.4" fill="#111">0</text>
<text class="s" transform="translate(128.6,620.8) scale(1,1.13)" font-size="12" fill="#111">10</text>
<text class="s" x="140.0" y="615.8" font-size="8.4" fill="#111">1</text>
<text class="s" transform="translate(207.0,620.8) scale(1,1.13)" font-size="12" fill="#111">10</text>
<text class="s" x="218.4" y="615.8" font-size="8.4" fill="#111">2</text>
<text class="s" transform="translate(285.3,620.8) scale(1,1.13)" font-size="12" fill="#111">10</text>
<text class="s" x="296.7" y="615.8" font-size="8.4" fill="#111">3</text>
<text class="s" x="166.1" y="637.3" font-size="17.5" font-style="italic" fill="#111">m<tspan font-size="12" dy="1.8" dx="0.3">χ</tspan></text>
<text class="ss" x="194.3" y="637.3" font-size="15.5" fill="#111" textLength="32.5" lengthAdjust="spacingAndGlyphs">[GeV]</text>
<rect x="273.6" y="336.7" width="56.0" height="35.6" fill="#fff" stroke="#222" stroke-width="1"/>
<line x1="280.9" x2="297.7" y1="345.5" y2="345.5" stroke="#000" stroke-width="2"/>
<line x1="280.9" x2="297.7" y1="361.5" y2="361.5" stroke="#000" stroke-width="2" stroke-dasharray="4.4 4.4"/>
<text class="s" x="309.1" y="348.1" font-size="11.5" font-style="italic" fill="#111">B<tspan font-size="8" dy="2.5">μν</tspan></text>
<text class="s" x="309.1" y="363.8" font-size="11.5" font-style="italic" fill="#111">F<tspan font-size="8" dy="2.5">μν</tspan></text>
<rect x="63.5" y="549.2" width="73.0" height="53.2" fill="#fff" stroke="#222" stroke-width="1"/>
<line x1="69.7" x2="87.9" y1="558.0" y2="558.0" stroke="#000" stroke-width="3.6"/>
<line x1="69.7" x2="87.9" y1="574.8" y2="574.8" stroke="#ff8c00" stroke-width="2"/>
<line x1="69.7" x2="87.9" y1="592.3" y2="592.3" stroke="#4169e1" stroke-width="2"/>
<text class="ss" x="99.0" y="561.8" font-size="11" fill="#111">Total</text>
<text class="s" x="99.5" y="575.8" font-size="11.5" font-style="italic" fill="#111" textLength="6.2" lengthAdjust="spacingAndGlyphs">α</text>
<text class="s" x="106.3" y="577.8" font-size="7.6" font-style="italic" fill="#111" textLength="13.6" lengthAdjust="spacingAndGlyphs">EW</text>
<text class="s" x="121.2" y="575.8" font-size="11.5" font-style="italic" fill="#111" textLength="6.2" lengthAdjust="spacingAndGlyphs">α</text>
<text class="s" x="127.8" y="571.7" font-size="7.6" fill="#111">2</text>
<text class="s" x="127.9" y="578.7" font-size="7.6" font-style="italic" fill="#111">S</text>
<text class="s" x="99.5" y="593.3" font-size="11.5" font-style="italic" fill="#111" textLength="6.2" lengthAdjust="spacingAndGlyphs">α</text>
<text class="s" x="106.4" y="588.7" font-size="7.6" fill="#111">3</text>
<text class="s" x="106.6" y="596.0" font-size="7.6" font-style="italic" fill="#111" textLength="13.4" lengthAdjust="spacingAndGlyphs">EW</text>
<g transform="translate(-0.1,469.8) rotate(-90)" fill="#111">
<line x1="-58.6" x2="-20.2" y1="12.4" y2="12.4" stroke="#111" stroke-width="0.8"/>
<text class="s" x="-58.8" y="7.7" font-size="10.5" font-style="italic">σ</text>
<text class="s" x="-52" y="9.4" font-size="8" font-style="italic" textLength="30.8" lengthAdjust="spacingAndGlyphs">pp→χχjj</text>
<text class="s" x="-46.4" y="22" font-size="12" font-style="italic">C</text>
<text class="s" x="-38" y="17.2" font-size="5.8">2</text>
<text class="s" x="-38.4" y="25.4" font-size="7.6" font-style="italic">M</text>
<path d="M-9.9,3.4 Q-15.8,12.4 -9.9,21.4" fill="none" stroke="#111" stroke-width="1"/>
<path d="M19.2,3.4 Q25.1,12.4 19.2,21.4" fill="none" stroke="#111" stroke-width="1"/>
<text class="s" x="0.6" y="10.7" font-size="10.5">Λ</text>
<line x1="-9.1" x2="17.5" y1="12.7" y2="12.7" stroke="#111" stroke-width="0.8"/>
<text class="s" x="-7.9" y="21.4" font-size="10.5" textLength="24.8" lengthAdjust="spacingAndGlyphs">1 TeV</text>
<text class="s" x="24.9" y="7.7" font-size="10.5">2</text>
<text class="ss" x="38.8" y="16.6" font-size="15.5" textLength="19.6" lengthAdjust="spacingAndGlyphs">[fb]</text>
</g>
<clipPath id="cBR"><rect x="408.0" y="331.6" width="276.20000000000005" height="275.9"/></clipPath>
<g clip-path="url(#cBR)" fill="none" stroke-linejoin="round">
<polyline points="408.0,351.5 451.7,351.7 470.0,352.2 482.5,352.7 495.0,354.4 507.4,357.5 517.4,361.2 522.4,365.0 527.4,369.3 532.4,381.2 537.4,393.7 541.8,404.3 544.9,406.1 550.0,408.0 553.0,409.2 567.0,419.2 581.1,424.8 597.4,441.2 606.6,446.5 614.3,454.1 621.9,465.2 630.2,479.0 637.8,492.7 645.6,505.2 653.4,511.4 655.0,512.2 662.7,530.1 665.8,547.3 669.6,572.7 678.0,610.0" stroke="#000" stroke-width="3.6"/>
<polyline points="408.0,381.9 440.0,383.3 475.0,386.2 484.4,387.7 493.7,389.0 503.1,390.5 511.8,392.4 520.5,395.2 529.3,398.0 538.6,401.2 547.4,403.7 565.0,410.0 590.0,419.4 599.7,424.3 608.0,427.7 615.7,432.6 623.3,438.8 630.2,445.1 637.2,452.0 644.1,458.3 651.0,464.5 656.6,470.7 660.4,480.3 663.5,489.6 665.8,499.0 668.2,508.3 670.5,517.6 672.8,528.6 676.0,542.6 678.3,551.2" stroke="#000" stroke-width="3.3" stroke-dasharray="4.6 4.6"/>
<polyline points="408.0,351.5 451.7,351.7 470.0,352.2 482.5,352.7 495.0,354.4 507.4,357.5 517.4,361.2 522.4,365.0 527.4,369.3 532.4,381.2 537.4,393.7 541.8,404.3 544.9,406.1 550.0,408.0 553.0,409.2 567.0,419.2 581.1,424.8 597.4,441.2 606.6,446.5 614.3,454.1 621.9,465.2 630.2,479.0 637.8,492.7 645.6,505.2 653.4,511.4 655.0,512.2 662.7,530.1 665.8,547.3 669.6,572.7 678.0,610.0" stroke="#ff8c00" stroke-width="1.65"/>
<polyline points="408.0,383.5 440.0,384.9 475.0,387.7 493.7,390.5 511.8,394.9 529.3,401.2 538.6,404.9 541.8,404.8 544.9,405.6 550.0,407.5 553.0,408.7 567.0,418.7 581.1,424.3 597.4,440.7 606.6,446.0 614.3,453.6 621.9,464.7 630.2,478.5 637.8,492.2 645.6,504.7 653.4,510.9 655.0,511.7 662.7,529.6 665.8,546.8 669.6,572.2 678.0,610.0" stroke="#ff8c00" stroke-width="2" stroke-dasharray="4.6 4.6"/>
<polyline points="408.0,430.7 451.7,431.1 480.0,432.0 500.3,434.7 511.2,437.5 519.0,441.4 526.8,449.2 534.6,471.8 542.4,505.8 550.2,509.2 560.0,517.0 566.9,524.9 575.4,527.6 583.4,532.3 599.3,548.3 607.3,553.6 615.2,562.6 631.1,588.6 644.0,610.0" stroke="#4169e1" stroke-width="2"/>
<polyline points="408.0,422.7 528.5,423.2 540.0,423.7 578.7,425.5 594.2,428.4 603.9,431.2 612.2,434.7 620.5,439.5 626.0,443.0 630.2,446.0 637.2,452.7 644.1,459.0 651.0,465.2 656.6,471.4 660.4,481.0 663.5,490.3 665.8,499.7 668.2,509.0 670.5,518.3 672.8,529.3 676.0,543.3 678.3,551.9" stroke="#4169e1" stroke-width="2" stroke-dasharray="4.6 4.6"/>
</g>
<path d="M408.00,607.5v-3.6 M408.00,331.6v3.6 M431.46,607.5v-2.1 M431.46,331.6v2.1 M445.18,607.5v-2.1 M445.18,331.6v2.1 M454.92,607.5v-2.1 M454.92,331.6v2.1 M462.47,607.5v-2.1 M462.47,331.6v2.1 M468.64,607.5v-2.1 M468.64,331.6v2.1 M473.86,607.5v-2.1 M473.86,331.6v2.1 M478.38,607.5v-2.1 M478.38,331.6v2.1 M482.37,607.5v-2.1 M482.37,331.6v2.1 M485.93,607.5v-3.6 M485.93,331.6v3.6 M509.39,607.5v-2.1 M509.39,331.6v2.1 M523.12,607.5v-2.1 M523.12,331.6v2.1 M532.85,607.5v-2.1 M532.85,331.6v2.1 M540.41,607.5v-2.1 M540.41,331.6v2.1 M546.58,607.5v-2.1 M546.58,331.6v2.1 M551.79,607.5v-2.1 M551.79,331.6v2.1 M556.31,607.5v-2.1 M556.31,331.6v2.1 M560.30,607.5v-2.1 M560.30,331.6v2.1 M563.87,607.5v-3.6 M563.87,331.6v3.6 M587.33,607.5v-2.1 M587.33,331.6v2.1 M601.05,607.5v-2.1 M601.05,331.6v2.1 M610.79,607.5v-2.1 M610.79,331.6v2.1 M618.34,607.5v-2.1 M618.34,331.6v2.1 M624.51,607.5v-2.1 M624.51,331.6v2.1 M629.73,607.5v-2.1 M629.73,331.6v2.1 M634.25,607.5v-2.1 M634.25,331.6v2.1 M638.23,607.5v-2.1 M638.23,331.6v2.1 M641.80,607.5v-3.6 M641.80,331.6v3.6 M665.26,607.5v-2.1 M665.26,331.6v2.1 M678.98,607.5v-2.1 M678.98,331.6v2.1 M408.0,607.50h3.6 M684.2,607.50h-3.6 M408.0,597.12h2.1 M684.2,597.12h-2.1 M408.0,591.05h2.1 M684.2,591.05h-2.1 M408.0,586.74h2.1 M684.2,586.74h-2.1 M408.0,583.39h2.1 M684.2,583.39h-2.1 M408.0,580.66h2.1 M684.2,580.66h-2.1 M408.0,578.35h2.1 M684.2,578.35h-2.1 M408.0,576.35h2.1 M684.2,576.35h-2.1 M408.0,574.59h2.1 M684.2,574.59h-2.1 M408.0,573.01h3.6 M684.2,573.01h-3.6 M408.0,562.63h2.1 M684.2,562.63h-2.1 M408.0,556.56h2.1 M684.2,556.56h-2.1 M408.0,552.25h2.1 M684.2,552.25h-2.1 M408.0,548.91h2.1 M684.2,548.91h-2.1 M408.0,546.18h2.1 M684.2,546.18h-2.1 M408.0,543.87h2.1 M684.2,543.87h-2.1 M408.0,541.87h2.1 M684.2,541.87h-2.1 M408.0,540.10h2.1 M684.2,540.10h-2.1 M408.0,538.52h3.6 M684.2,538.52h-3.6 M408.0,528.14h2.1 M684.2,528.14h-2.1 M408.0,522.07h2.1 M684.2,522.07h-2.1 M408.0,517.76h2.1 M684.2,517.76h-2.1 M408.0,514.42h2.1 M684.2,514.42h-2.1 M408.0,511.69h2.1 M684.2,511.69h-2.1 M408.0,509.38h2.1 M684.2,509.38h-2.1 M408.0,507.38h2.1 M684.2,507.38h-2.1 M408.0,505.62h2.1 M684.2,505.62h-2.1 M408.0,504.04h3.6 M684.2,504.04h-3.6 M408.0,493.66h2.1 M684.2,493.66h-2.1 M408.0,487.58h2.1 M684.2,487.58h-2.1 M408.0,483.27h2.1 M684.2,483.27h-2.1 M408.0,479.93h2.1 M684.2,479.93h-2.1 M408.0,477.20h2.1 M684.2,477.20h-2.1 M408.0,474.89h2.1 M684.2,474.89h-2.1 M408.0,472.89h2.1 M684.2,472.89h-2.1 M408.0,471.13h2.1 M684.2,471.13h-2.1 M408.0,469.55h3.6 M684.2,469.55h-3.6 M408.0,459.17h2.1 M684.2,459.17h-2.1 M408.0,453.10h2.1 M684.2,453.10h-2.1 M408.0,448.79h2.1 M684.2,448.79h-2.1 M408.0,445.44h2.1 M684.2,445.44h-2.1 M408.0,442.71h2.1 M684.2,442.71h-2.1 M408.0,440.40h2.1 M684.2,440.40h-2.1 M408.0,438.40h2.1 M684.2,438.40h-2.1 M408.0,436.64h2.1 M684.2,436.64h-2.1 M408.0,435.06h3.6 M684.2,435.06h-3.6 M408.0,424.68h2.1 M684.2,424.68h-2.1 M408.0,418.61h2.1 M684.2,418.61h-2.1 M408.0,414.30h2.1 M684.2,414.30h-2.1 M408.0,410.96h2.1 M684.2,410.96h-2.1 M408.0,408.23h2.1 M684.2,408.23h-2.1 M408.0,405.92h2.1 M684.2,405.92h-2.1 M408.0,403.92h2.1 M684.2,403.92h-2.1 M408.0,402.15h2.1 M684.2,402.15h-2.1 M408.0,400.58h3.6 M684.2,400.58h-3.6 M408.0,390.19h2.1 M684.2,390.19h-2.1 M408.0,384.12h2.1 M684.2,384.12h-2.1 M408.0,379.81h2.1 M684.2,379.81h-2.1 M408.0,376.47h2.1 M684.2,376.47h-2.1 M408.0,373.74h2.1 M684.2,373.74h-2.1 M408.0,371.43h2.1 M684.2,371.43h-2.1 M408.0,369.43h2.1 M684.2,369.43h-2.1 M408.0,367.67h2.1 M684.2,367.67h-2.1 M408.0,355.71h2.1 M684.2,355.71h-2.1 M408.0,349.63h2.1 M684.2,349.63h-2.1 M408.0,345.32h2.1 M684.2,345.32h-2.1 M408.0,341.98h2.1 M684.2,341.98h-2.1 M408.0,339.25h2.1 M684.2,339.25h-2.1 M408.0,336.94h2.1 M684.2,336.94h-2.1 M408.0,334.94h2.1 M684.2,334.94h-2.1 M408.0,333.18h2.1 M684.2,333.18h-2.1 M408.0,331.60h3.6 M684.2,331.60h-3.6" stroke="#222" stroke-width="0.9" fill="none"/>
<rect x="408.0" y="331.6" width="276.20000000000005" height="275.9" fill="none" stroke="#2a2a2a" stroke-width="1"/>
<text class="s" x="405.0" y="330.5" font-size="8.8" text-anchor="end" fill="#111">4</text>
<text class="s" transform="translate(400.3,335.5) scale(1,1.13)" font-size="12" text-anchor="end" fill="#111">10</text>
<text class="s" x="405.0" y="399.5" font-size="8.8" text-anchor="end" fill="#111">2</text>
<text class="s" transform="translate(400.3,404.5) scale(1,1.13)" font-size="12" text-anchor="end" fill="#111">10</text>
<text class="s" x="405.0" y="434.0" font-size="8.8" text-anchor="end" fill="#111">1</text>
<text class="s" transform="translate(400.3,439.0) scale(1,1.13)" font-size="12" text-anchor="end" fill="#111">10</text>
<text class="s" x="405.0" y="468.4" font-size="8.8" text-anchor="end" fill="#111">0</text>
<text class="s" transform="translate(400.3,473.4) scale(1,1.13)" font-size="12" text-anchor="end" fill="#111">10</text>
<text class="s" x="405.0" y="502.9" font-size="8.8" text-anchor="end" fill="#111">−1</text>
<text class="s" transform="translate(393.9,507.9) scale(1,1.13)" font-size="12" text-anchor="end" fill="#111">10</text>
<text class="s" x="405.0" y="537.4" font-size="8.8" text-anchor="end" fill="#111">−2</text>
<text class="s" transform="translate(393.9,542.4) scale(1,1.13)" font-size="12" text-anchor="end" fill="#111">10</text>
<text class="s" x="405.0" y="571.9" font-size="8.8" text-anchor="end" fill="#111">−3</text>
<text class="s" transform="translate(393.9,576.9) scale(1,1.13)" font-size="12" text-anchor="end" fill="#111">10</text>
<text class="s" x="405.0" y="606.4" font-size="8.8" text-anchor="end" fill="#111">−4</text>
<text class="s" transform="translate(393.9,611.4) scale(1,1.13)" font-size="12" text-anchor="end" fill="#111">10</text>
<text class="s" transform="translate(400.4,620.0) scale(1,1.13)" font-size="12" fill="#111">10</text>
<text class="s" x="411.8" y="615.0" font-size="8.4" fill="#111">0</text>
<text class="s" transform="translate(478.3,620.0) scale(1,1.13)" font-size="12" fill="#111">10</text>
<text class="s" x="489.7" y="615.0" font-size="8.4" fill="#111">1</text>
<text class="s" transform="translate(556.3,620.0) scale(1,1.13)" font-size="12" fill="#111">10</text>
<text class="s" x="567.7" y="615.0" font-size="8.4" fill="#111">2</text>
<text class="s" transform="translate(634.2,620.0) scale(1,1.13)" font-size="12" fill="#111">10</text>
<text class="s" x="645.6" y="615.0" font-size="8.4" fill="#111">3</text>
<text class="s" x="515.5" y="636.5" font-size="17.5" font-style="italic" fill="#111">m<tspan font-size="12" dy="1.8" dx="0.3">χ</tspan></text>
<text class="ss" x="543.7" y="636.5" font-size="15.5" fill="#111" textLength="32.5" lengthAdjust="spacingAndGlyphs">[GeV]</text>
<rect x="621.6" y="337.6" width="57.0" height="35.3" fill="#fff" stroke="#222" stroke-width="1"/>
<line x1="628.9" x2="645.7" y1="346.4" y2="346.4" stroke="#000" stroke-width="2"/>
<line x1="628.9" x2="645.7" y1="362.4" y2="362.4" stroke="#000" stroke-width="2" stroke-dasharray="4.4 4.4"/>
<text class="s" x="657.1" y="349.0" font-size="11.5" font-style="italic" fill="#111">B<tspan font-size="8" dy="2.5">μν</tspan></text>
<text class="s" x="657.1" y="364.7" font-size="11.5" font-style="italic" fill="#111">F<tspan font-size="8" dy="2.5">μν</tspan></text>
<rect x="413.5" y="547.6" width="74.0" height="54.2" fill="#fff" stroke="#222" stroke-width="1"/>
<line x1="419.7" x2="437.9" y1="556.4" y2="556.4" stroke="#000" stroke-width="3.6"/>
<line x1="419.7" x2="437.9" y1="573.2" y2="573.2" stroke="#ff8c00" stroke-width="2"/>
<line x1="419.7" x2="437.9" y1="590.7" y2="590.7" stroke="#4169e1" stroke-width="2"/>
<text class="ss" x="449.0" y="560.2" font-size="11" fill="#111">Total</text>
<text class="s" x="449.5" y="574.2" font-size="11.5" font-style="italic" fill="#111" textLength="6.2" lengthAdjust="spacingAndGlyphs">α</text>
<text class="s" x="456.3" y="576.2" font-size="7.6" font-style="italic" fill="#111" textLength="13.6" lengthAdjust="spacingAndGlyphs">EW</text>
<text class="s" x="471.2" y="574.2" font-size="11.5" font-style="italic" fill="#111" textLength="6.2" lengthAdjust="spacingAndGlyphs">α</text>
<text class="s" x="477.8" y="570.1" font-size="7.6" fill="#111">2</text>
<text class="s" x="477.9" y="577.1" font-size="7.6" font-style="italic" fill="#111">S</text>
<text class="s" x="449.5" y="591.7" font-size="11.5" font-style="italic" fill="#111" textLength="6.2" lengthAdjust="spacingAndGlyphs">α</text>
<text class="s" x="456.4" y="587.1" font-size="7.6" fill="#111">3</text>
<text class="s" x="456.6" y="594.4" font-size="7.6" font-style="italic" fill="#111" textLength="13.4" lengthAdjust="spacingAndGlyphs">EW</text>
<g transform="translate(349.0,469.6) rotate(-90)" fill="#111">
<line x1="-58.6" x2="-20.2" y1="12.4" y2="12.4" stroke="#111" stroke-width="0.8"/>
<text class="s" x="-58.8" y="7.7" font-size="10.5" font-style="italic">σ</text>
<text class="s" x="-52" y="9.4" font-size="8" font-style="italic" textLength="30.8" lengthAdjust="spacingAndGlyphs">pp→χχjj</text>
<text class="s" x="-46.4" y="22" font-size="12" font-style="italic">C</text>
<text class="s" x="-38" y="17.2" font-size="5.8">2</text>
<text class="s" x="-38.4" y="25.4" font-size="7.6" font-style="italic">el</text>
<path d="M-9.9,3.4 Q-15.8,12.4 -9.9,21.4" fill="none" stroke="#111" stroke-width="1"/>
<path d="M19.2,3.4 Q25.1,12.4 19.2,21.4" fill="none" stroke="#111" stroke-width="1"/>
<text class="s" x="0.6" y="10.7" font-size="10.5">Λ</text>
<line x1="-9.1" x2="17.5" y1="12.7" y2="12.7" stroke="#111" stroke-width="0.8"/>
<text class="s" x="-7.9" y="21.4" font-size="10.5" textLength="24.8" lengthAdjust="spacingAndGlyphs">1 TeV</text>
<text class="s" x="24.9" y="7.7" font-size="10.5">2</text>
<text class="ss" x="38.8" y="16.6" font-size="15.5" textLength="19.6" lengthAdjust="spacingAndGlyphs">[fb]</text>
</g>
</svg></body></html>
